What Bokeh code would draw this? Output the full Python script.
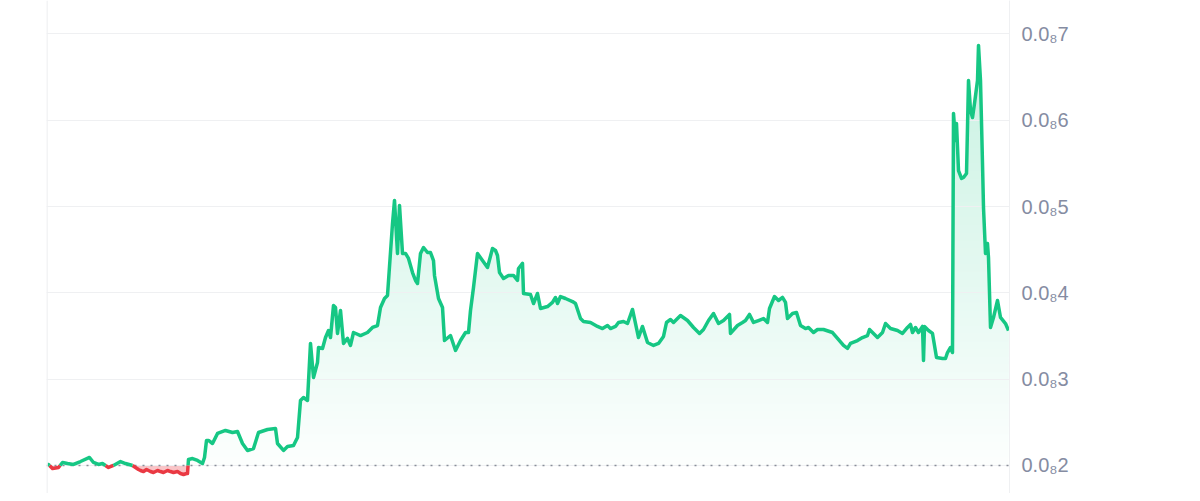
import numpy as np
from bokeh.plotting import figure
from bokeh.models import Span, FixedTicker, Range1d
from bokeh.embed import file_html
from bokeh.resources import INLINE

# time steps (arbitrary sample index) and price in units of 1e-9
t = [0, 1, 5, 11, 15, 20, 26, 33, 42, 46, 51, 55, 61, 66, 73, 78, 85, 88, 91, 93, 96, 99, 103, 106,
     110, 113, 116, 120, 123, 126, 130, 133, 136, 139, 140,
     141, 145, 150, 155, 157, 159, 161, 165, 170, 178, 185, 190, 195, 200, 206, 211, 220, 228, 230,
     236, 240, 246, 250, 253, 256, 260, 263, 266, 270, 271, 275, 278, 281, 283, 286, 288, 290, 293,
     296, 300, 303, 306, 313, 320, 325, 330, 333, 337, 340, 345, 347, 350, 352, 355, 358, 361, 365,
     368, 370, 373, 376, 380, 383, 386, 387, 391, 395, 397, 403, 408, 413, 418, 421, 423, 426, 430,
     435, 440, 445, 448, 450, 452, 456, 461, 466, 470, 471, 475, 476, 483, 486, 490, 493, 500, 505,
     508, 510, 513, 518, 525, 528, 533, 536, 543, 550, 555, 560, 563, 568, 571, 576, 580, 585, 591,
     595, 600, 606, 611, 616, 619, 623, 626, 633, 640, 646, 652, 656, 661, 666, 671, 676, 682, 683,
     690, 695, 698, 702, 706, 711, 716, 720, 722, 727, 731, 735, 738, 740, 745, 749, 753, 758, 761,
     766, 770, 776, 785, 790, 796, 800, 803, 810, 815, 820, 822, 826, 830, 835, 838, 843, 850, 855,
     860, 863, 865, 868, 871, 875, 876, 877, 881, 885, 889, 895, 898, 900, 903, 905, 906, 908, 909,
     911, 914, 916, 919, 921, 923, 925, 927, 930, 931, 933, 935, 936, 938, 940, 941, 943, 946, 950,
     953, 958, 961]
price = [2.012, 2.012, 1.965, 1.977, 2.035, 2.023, 2.012, 2.046, 2.093, 2.035, 2.012, 2.023, 1.977,
         2.000, 2.046, 2.023, 2.000, 1.977, 1.954, 1.942, 1.930, 1.954, 1.930, 1.919,
         1.942, 1.930, 1.919, 1.942, 1.930, 1.919, 1.930, 1.907, 1.896, 1.907, 1.907,
         2.070, 2.081, 2.058, 2.023, 2.093, 2.290, 2.290, 2.255, 2.371, 2.406, 2.382, 2.394, 2.255,
         2.174, 2.197, 2.382, 2.417, 2.429, 2.255,
         2.174, 2.220, 2.232, 2.324, 2.753, 2.788, 2.753, 3.414, 3.020, 3.194, 3.367, 3.356, 3.483,
         3.564, 3.483, 3.854, 3.831, 3.530, 3.796,
         3.414, 3.472, 3.391, 3.541, 3.506, 3.541, 3.599, 3.622, 3.831, 3.935, 3.970, 4.804, 5.071,
         4.457, 5.013, 4.457, 4.457, 4.399, 4.236,
         4.144, 4.109, 4.457, 4.526, 4.468, 4.468, 4.375, 4.202, 3.935, 3.831, 3.448, 3.506, 3.333,
         3.448, 3.541, 3.541, 3.796, 4.063, 4.457,
         4.375, 4.294, 4.514, 4.491, 4.433, 4.236, 4.167, 4.202, 4.202, 4.144, 4.283, 4.341, 3.993,
         3.981, 3.877, 3.993, 3.819, 3.842, 3.889,
         3.947, 3.877, 3.958, 3.935, 3.900, 3.877, 3.703, 3.669, 3.657, 3.611, 3.587, 3.622, 3.587,
         3.611, 3.657, 3.669, 3.645, 3.808, 3.483,
         3.611, 3.425, 3.391, 3.414, 3.495, 3.657, 3.692, 3.657, 3.738, 3.680, 3.599, 3.530, 3.576,
         3.680, 3.761, 3.645, 3.680, 3.750, 3.530,
         3.622, 3.657, 3.680, 3.750, 3.657, 3.680, 3.703, 3.657, 3.819, 3.958, 3.912, 3.947, 3.889,
         3.703, 3.761, 3.773, 3.622, 3.587, 3.599,
         3.541, 3.576, 3.576, 3.541, 3.472, 3.391, 3.356, 3.414, 3.448, 3.483, 3.506, 3.576, 3.530,
         3.483, 3.541, 3.645, 3.587, 3.564, 3.530,
         3.599, 3.634, 3.541, 3.599, 3.541, 3.611, 3.217, 3.611, 3.564, 3.530, 3.251, 3.240, 3.240,
         3.309, 3.367, 3.309, 6.079, 5.766, 5.963,
         5.418, 5.326, 5.337, 5.384, 6.461, 6.114, 6.032, 6.195, 6.461, 6.867, 6.461, 5.499, 4.990,
         4.457, 4.572, 4.410, 3.599, 3.715, 3.912,
         3.715, 3.645, 3.564]

base_price = 2.0
tick_values = [2, 3, 4, 5, 6, 7]
tick_labels = ["0.0₈2", "0.0₈3", "0.0₈4", "0.0₈5", "0.0₈6", "0.0₈7"]

GREEN = (22, 199, 132)
RED = (234, 57, 67)
Y_LO, Y_HI = 1.6755, 7.388


def tint(rgb, a):
    r, g, b = (round(255 - (255 - c) * a) for c in rgb)
    return "#%02x%02x%02x" % (r, g, b)


# insert baseline crossings so colours switch exactly at the baseline
tt, vv = [], []
for i in range(len(t) - 1):
    tt.append(t[i]); vv.append(price[i])
    a, b = price[i] - base_price, price[i + 1] - base_price
    if a * b < 0:
        f = -a / (b - a)
        tt.append(t[i] + f * (t[i + 1] - t[i])); vv.append(base_price)
tt.append(t[-1]); vv.append(price[-1])
tt = np.array(tt, dtype=float)
vv = np.array(vv, dtype=float)

p = figure(output_backend="svg", toolbar_location=None,
           frame_width=963, frame_height=493,
           min_border_left=46, min_border_top=0, min_border_bottom=0, min_border_right=0,
           x_range=Range1d(-1, 962), y_range=Range1d(Y_LO, Y_HI),
           y_axis_location="right")
p.xaxis.visible = False
p.xgrid.visible = False
p.ygrid.grid_line_color = "#eff0f2"
p.ygrid.grid_line_width = 1
p.outline_line_color = None
p.background_fill_color = "white"
p.border_fill_color = "white"

ax = p.yaxis[0]
ax.ticker = FixedTicker(ticks=tick_values)
ax.major_label_overrides = dict(zip(tick_values, tick_labels))
ax.axis_line_color = "#eff0f2"
ax.axis_line_width = 1
ax.major_tick_line_color = None
ax.minor_tick_line_color = None
ax.major_tick_out = 0
ax.major_tick_in = 0
ax.major_label_standoff = 12
ax.major_label_text_font = "Liberation Sans"
ax.major_label_text_font_size = "20px"
ax.major_label_text_color = "#858ca2"

# left border line
p.add_layout(Span(location=-0.5, dimension="height", line_color="#eff0f2", line_width=1.5))

# baseline (start price) dotted line
p.add_layout(Span(location=base_price, dimension="width", line_color="#8a8f9a",
                  line_dash="2 6", line_width=1.6, level="underlay"))

# green gradient fill above baseline: overlapping opaque layers, lighter near the baseline
vg = np.maximum(vv, base_price)
levels = np.linspace(base_price, Y_HI, 60, endpoint=False)
step = levels[1] - levels[0]
for lv in levels:
    a = 0.012 + 0.25 * (lv + step / 2 - base_price) / (Y_HI - base_price)
    p.varea(x=tt, y1=np.minimum(vg, lv), y2=vg, fill_color=tint(GREEN, a), level="image")

# red fill below baseline
vr = np.minimum(vv, base_price)
p.varea(x=tt, y1=vr, y2=np.full_like(vr, base_price), fill_color=tint(RED, 0.3), level="image")

green_line = np.where(vv >= base_price, vv, np.nan)
red_line = np.where(vv <= base_price, vv, np.nan)
p.line(tt, red_line, line_color=tint(RED, 1), line_width=3.5, line_join="round")
p.line(tt, green_line, line_color=tint(GREEN, 1), line_width=3.5, line_join="round")

open("out.html", "w").write(file_html(p, INLINE))
